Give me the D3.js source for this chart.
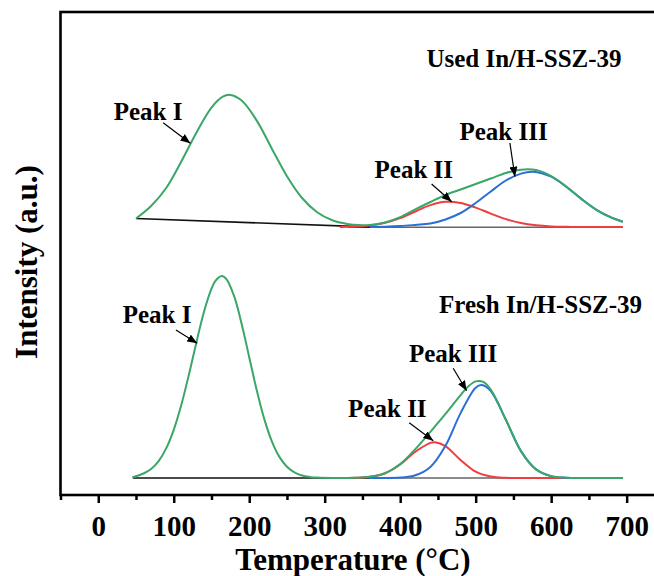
<!DOCTYPE html>
<html>
<head>
<meta charset="utf-8">
<script src="https://cdn.jsdelivr.net/npm/d3@7"></script>
<style>
  body { margin: 0; background: #fff; }
  svg text { font-family: "Liberation Serif", "Times New Roman", serif; font-weight: bold; }
</style>
</head>
<body>
<div id="chart"></div>
<script>
// temperature (°C) and intensity (a.u.)
var usedTotalT = [50, 70, 90, 110, 130, 150, 165, 175, 190, 210, 230, 250, 270, 290, 310, 330, 345, 360, 380, 400, 420, 440, 460, 480, 500, 520, 540, 560, 580, 600, 620, 640, 660, 680, 695]
var usedTotal = [276.5, 289, 307, 333.5, 362.3, 387.4, 398.3, 400.1, 394.5, 374.4, 346.3, 318.8, 297.0, 282.8, 274.8, 271.1, 269.9, 269.9, 272.5, 277.8, 285.6, 293, 300, 305.5, 311, 316.5, 322, 325.3, 324.9, 318.9, 308.4, 296.1, 285.2, 277.3, 273.3]
var usedP2T = [320, 340, 360, 380, 400, 420, 440, 460, 480, 500, 520, 540, 560, 580, 600, 620, 640, 695]
var usedP2 = [268.1, 268.5, 269.6, 272.2, 276.9, 283.5, 289.9, 293.2, 292.0, 287.4, 281.4, 275.9, 271.9, 269.7, 268.6, 268.2, 268.0, 268.0]
var usedP3T = [360, 380, 400, 420, 440, 460, 480, 500, 520, 540, 560, 576, 600, 620, 640, 660, 680, 695]
var usedP3 = [268.1, 268.3, 268.9, 270.1, 271.5, 275.5, 282.0, 292.0, 303.5, 314.5, 321.4, 323.3, 318.3, 308.2, 296.1, 285.2, 277.3, 273.3]
var usedBaseT = [50, 365]
var usedBase = [276.5, 267.9]
var usedBase2T = [330, 695]
var usedBase2 = [267.8, 267.8]

var freshTotalT = [45, 60, 70, 80, 90, 100, 110, 120, 130, 140, 150, 155, 163.5, 170, 180, 190, 200, 210, 220, 230, 240, 250, 260, 270, 280, 290, 310, 340, 360, 380, 400, 420, 440, 460, 480, 490, 500, 510, 520, 540, 560, 580, 600, 620, 640, 695]
var freshTotal = [17.5, 21.5, 26.0, 33.9, 46.6, 65.2, 90.0, 120.1, 152.5, 183.0, 206.3, 213.9, 219.0, 215.7, 198.8, 171.1, 137.8, 104.7, 75.9, 53.7, 38.1, 28.3, 22.6, 19.5, 18.1, 17.4, 17.0, 17.2, 18.2, 21.8, 30.9, 45.9, 63.2, 81.1, 99.9, 108.5, 113.6, 113.1, 105.4, 75.3, 43.9, 25.6, 18.9, 17.3, 17.0, 17.0]
var freshP2T = [320, 340, 360, 380, 400, 420, 440, 446, 460, 480, 500, 520, 540, 560, 695]
var freshP2 = [17.0, 17.2, 18.2, 21.8, 30.5, 43.2, 52.1, 52.7, 48.8, 35.0, 23.3, 18.4, 17.2, 17.0, 17.0]
var freshP3T = [360, 380, 400, 420, 440, 460, 480, 500, 508, 520, 540, 560, 580, 600, 620, 640, 695]
var freshP3 = [17.0, 17.0, 17.4, 19.7, 28.1, 49.3, 81.9, 107.3, 110, 104.0, 75.1, 43.9, 25.6, 18.9, 17.3, 17.0, 17.0]
var freshBaseT = [46, 375]
var freshBase = [17, 17]
var freshBase2T = [360, 695]
var freshBase2 = [17, 17]

var majorTicks = [0, 100, 200, 300, 400, 500, 600, 700]
var minorTicks = [-50, 50, 150, 250, 350, 450, 550, 650, 750]

// labels: text, label point, arrow start, arrow end (data units)
var peakLabels = [
    { text: "Peak I", t: 66, v: 375, a: [86, 372.3], b: [122, 351.7] },
    { text: "Peak II", t: 418, v: 317, a: [441.6, 311], b: [468.2, 293.3] },
    { text: "Peak III", t: 537, v: 355, a: [545.3, 352], b: [552, 318.3] },
    { text: "Peak I", t: 78, v: 171.7, a: [102.9, 165], b: [131.1, 151.7] },
    { text: "Peak II", t: 383, v: 78.3, a: [411.9, 72.3], b: [443.8, 54.3] },
    { text: "Peak III", t: 470, v: 133.3, a: [470.2, 126.7], b: [488, 104.3] }
]
var sampleLabels = [
    { text: "Used In/H-SSZ-39", t: 564, v: 428.3 },
    { text: "Fresh In/H-SSZ-39", t: 586, v: 181.7 }
]

var W = 654, H = 576
var svg = d3.select("#chart").append("svg")
    .attr("width", W).attr("height", H)

var x = d3.scaleLinear().domain([-50, 750]).range([60.5, 664.4])
var y = d3.scaleLinear().domain([0, 483]).range([495, 12])

var defs = svg.append("defs")
defs.append("marker")
    .attr("id", "arr")
    .attr("markerUnits", "userSpaceOnUse")
    .attr("markerWidth", 11).attr("markerHeight", 8)
    .attr("refX", 10).attr("refY", 4)
    .attr("orient", "auto")
    .append("path")
    .attr("d", "M0,0L10,4L0,8Z")
    .attr("fill", "black")

var line = d3.line()
    .x(d => x(d[0]))
    .y(d => y(d[1]))
    .curve(d3.curveCatmullRom)

function draw(ts, vs, color, w) {
    svg.append("path")
        .datum(ts.map((t, i) => [t, vs[i]]))
        .attr("d", line)
        .attr("fill", "none")
        .attr("stroke", color)
        .attr("stroke-width", w)
}

var green = "#3aa668", red = "#ee3e3e", blue = "#2a6fd8"

draw(usedBase2T, usedBase2, "#666", 1.6)
draw(usedBaseT, usedBase, "#111", 1.6)
draw(usedP2T, usedP2, red, 2)
draw(usedP3T, usedP3, blue, 2)
draw(usedTotalT, usedTotal, green, 2)

draw(freshBase2T, freshBase2, "#666", 1.6)
draw(freshBaseT, freshBase, "#111", 1.6)
draw(freshP2T, freshP2, red, 2)
draw(freshP3T, freshP3, blue, 2)
draw(freshTotalT, freshTotal, green, 2)

// axis
var gx = svg.append("g").attr("transform", "translate(0," + y(0) + ")")
gx.call(d3.axisBottom(x).tickValues(minorTicks).tickSize(5).tickFormat(""))
    .call(g => g.select(".domain").remove())
    .call(g => g.selectAll("line").attr("stroke-width", 2.5))
var gx2 = svg.append("g").attr("transform", "translate(0," + y(0) + ")")
gx2.call(d3.axisBottom(x).tickValues(majorTicks).tickSize(8).tickPadding(12).tickFormat(d3.format("d")))
    .call(g => g.select(".domain").remove())
    .call(g => g.selectAll("line").attr("stroke-width", 2.5))
    .call(g => g.selectAll("text")
        .attr("fill", "black")
        .style("font-size", "29px")
        .style("font-family", "'Liberation Serif', serif")
        .style("font-weight", "bold"))

svg.append("rect")
    .attr("x", x(-50)).attr("y", y(483))
    .attr("width", x(750) - x(-50)).attr("height", y(0) - y(483))
    .attr("fill", "none").attr("stroke", "black").attr("stroke-width", 2.6)

svg.append("text")
    .attr("x", 353).attr("y", 570)
    .attr("text-anchor", "middle")
    .style("font-size", "31px")
    .text("Temperature (°C)")

svg.append("text")
    .attr("transform", "translate(37,262) rotate(-90)")
    .attr("text-anchor", "middle")
    .style("font-size", "31px")
    .text("Intensity (a.u.)")

svg.selectAll(".sample").data(sampleLabels).enter().append("text")
    .attr("class", "sample")
    .attr("x", d => x(d.t)).attr("y", d => y(d.v))
    .attr("text-anchor", "middle")
    .style("font-size", "25px")
    .text(d => d.text)

var pk = svg.selectAll(".peak").data(peakLabels).enter().append("g").attr("class", "peak")
pk.append("text")
    .attr("x", d => x(d.t)).attr("y", d => y(d.v))
    .attr("text-anchor", "middle")
    .style("font-size", "25px")
    .text(d => d.text)
pk.append("line")
    .attr("x1", d => x(d.a[0])).attr("y1", d => y(d.a[1]))
    .attr("x2", d => x(d.b[0])).attr("y2", d => y(d.b[1]))
    .attr("stroke", "black").attr("stroke-width", 1.2)
    .attr("marker-end", "url(#arr)")
</script>
</body>
</html>
